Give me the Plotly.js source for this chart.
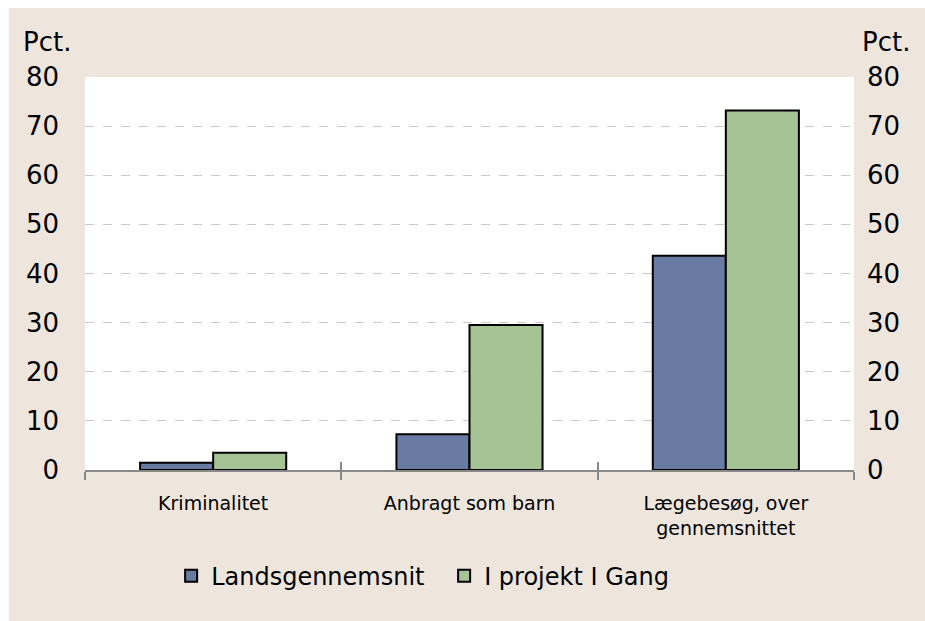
<!DOCTYPE html>
<html>
<head>
<meta charset="utf-8">
<script src="https://cdn.plot.ly/plotly-3.0.1.min.js"></script>
<style>
  html, body { margin: 0; padding: 0; background: #ffffff; }
  #chart { position: absolute; left: 9px; top: 8px; width: 916px; height: 613px; }
</style>
</head>
<body>
<div id="chart"></div>
<script>
const categories = ["Kriminalitet", "Anbragt som barn", "Lægebesøg, over<br>gennemsnittet"];
const landsgennemsnit = [1.5, 7.3, 43.6];
const projektIGang = [3.5, 29.5, 73.2];
const seriesNames = ["Landsgennemsnit", "I projekt I Gang"];
const yTicks = [0, 10, 20, 30, 40, 50, 60, 70, 80];
const axisTitle = "Pct.";

const FONT = "DejaVu Sans, Verdana, sans-serif";

const traces = [
  { type: "bar", name: seriesNames[0], x: categories, y: landsgennemsnit,
    marker: { color: "#6A7BA3", line: { color: "#000000", width: 2 } } },
  { type: "bar", name: seriesNames[1], x: categories, y: projektIGang,
    marker: { color: "#A6C395", line: { color: "#000000", width: 2 } } },
  { type: "bar", x: categories, y: [null, null, null], xaxis: "x2", yaxis: "y2",
    showlegend: false, hoverinfo: "skip" }
];

const layout = {
  width: 916, height: 613,
  paper_bgcolor: "#EEE6DD",
  plot_bgcolor: "#FFFFFF",
  margin: { l: 76, r: 71, t: 69, b: 151 },
  barmode: "group",
  bargap: 0.43,
  bargroupgap: 0,
  font: { family: FONT, color: "#000000" },
  xaxis: {
    type: "category",
    tickson: "boundaries",
    ticks: "outside", ticklen: 8, tickwidth: 2, tickcolor: "#898989",
    showline: true, linecolor: "#898989", linewidth: 2,
    showgrid: false,
    tickfont: { size: 19, family: FONT, color: "#000000" },
    ticklabelstandoff: 15,
    fixedrange: true
  },
  xaxis2: {
    type: "category", overlaying: "x", matches: "x",
    tickson: "boundaries",
    ticks: "inside", ticklen: 8, tickwidth: 2, tickcolor: "#898989",
    showticklabels: false, showgrid: false, showline: false,
    anchor: "y"
  },
  yaxis: {
    range: [0, 80],
    tickvals: yTicks,
    ticktext: yTicks.map(String),
    showgrid: true, gridcolor: "#C9C9C9", griddash: "dash", gridwidth: 1,
    zeroline: false, showline: false, ticks: "",
    tickfont: { size: 26, family: FONT, color: "#000000" },
    ticklabelstandoff: 25,
    fixedrange: true
  },
  yaxis2: {
    range: [0, 80], overlaying: "y", side: "right", anchor: "x",
    tickvals: yTicks,
    ticktext: yTicks.map(String),
    showgrid: false, zeroline: false, showline: false, ticks: "",
    tickfont: { size: 26, family: FONT, color: "#000000" },
    ticklabelstandoff: 12,
    fixedrange: true
  },
  legend: {
    orientation: "h",
    x: 0.112, xanchor: "left",
    y: -0.27, yanchor: "middle",
    font: { size: 24, family: FONT, color: "#000000" },
    bgcolor: "rgba(0,0,0,0)",
    itemwidth: 30,
    entrywidth: 228,
    traceorder: "normal"
  },
  annotations: [
    { text: axisTitle, xref: "paper", yref: "paper", x: -0.083, y: 1.09,
      xanchor: "left", yanchor: "middle", showarrow: false,
      font: { size: 26, family: FONT, color: "#000000" } },
    { text: axisTitle, xref: "paper", yref: "paper", x: 1.075, y: 1.09,
      xanchor: "right", yanchor: "middle", showarrow: false,
      font: { size: 26, family: FONT, color: "#000000" } }
  ]
};

Plotly.newPlot("chart", traces, layout, { displayModeBar: false, staticPlot: true });
</script>
</body>
</html>
